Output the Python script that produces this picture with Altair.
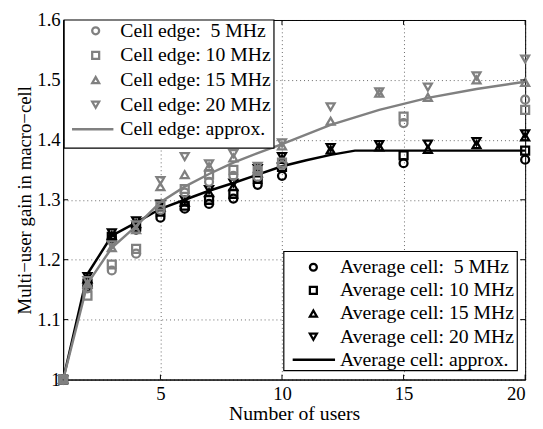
import altair as alt
import pandas as pd

# ---------------- data ----------------
x_lo = [1, 2, 3, 4, 5, 6, 7, 8, 9, 10, 15, 20]                  # 5 / 10 MHz
x_hi = [1, 2, 3, 4, 5, 6, 7, 8, 9, 10, 12, 14, 16, 18, 20]      # 15 / 20 MHz

edge_5 = [1.0, 1.152, 1.182, 1.21, 1.283, 1.312, 1.33, 1.34, 1.338, 1.358, 1.428, 1.467]
edge_10 = [1.0, 1.14, 1.192, 1.218, 1.29, 1.318, 1.342, 1.35, 1.348, 1.362, 1.439, 1.45]
edge_15 = [1.0, 1.16, 1.22, 1.25, 1.322, 1.342, 1.355, 1.37, 1.352, 1.39, 1.431, 1.478, 1.471, 1.50, 1.496]
edge_20 = [1.0, 1.165, 1.225, 1.258, 1.332, 1.372, 1.36, 1.377, 1.356, 1.395, 1.455, 1.48, 1.488, 1.507, 1.535]

avg_5 = [1.0, 1.155, 1.235, 1.25, 1.27, 1.285, 1.293, 1.302, 1.325, 1.34, 1.361, 1.367]
avg_10 = [1.0, 1.16, 1.238, 1.255, 1.28, 1.29, 1.30, 1.31, 1.335, 1.355, 1.374, 1.382]
avg_15 = [1.0, 1.168, 1.24, 1.26, 1.288, 1.296, 1.312, 1.322, 1.345, 1.368, 1.383, 1.388, 1.384, 1.392, 1.405]
avg_20 = [1.0, 1.172, 1.245, 1.265, 1.293, 1.30, 1.317, 1.328, 1.352, 1.372, 1.387, 1.392, 1.393, 1.397, 1.41]

edge_approx_x = [1, 2, 3, 4, 5, 6, 7, 8, 9, 10, 12, 14, 16, 18, 20]
edge_approx_y = [1.0, 1.16, 1.22, 1.256, 1.296, 1.322, 1.343, 1.362, 1.378, 1.393, 1.425, 1.45, 1.47, 1.485, 1.497]
avg_approx_x = [1, 2, 3, 4, 5, 6, 7, 8, 9, 10, 11, 12, 13, 20]
avg_approx_y = [1.0, 1.176, 1.24, 1.262, 1.285, 1.30, 1.315, 1.328, 1.342, 1.356, 1.366, 1.375, 1.382, 1.382]

bands = ["5 MHz", "10 MHz", "15 MHz", "20 MHz"]
shapes = ["circle", "square", "triangle-up", "triangle-down"]

edge_labels = ["Cell edge:\u00a0 5 MHz", "Cell edge: 10 MHz", "Cell edge: 15 MHz",
               "Cell edge: 20 MHz", "Cell edge: approx."]
avg_labels = ["Average cell:\u00a0 5 MHz", "Average cell: 10 MHz", "Average cell: 15 MHz",
              "Average cell: 20 MHz", "Average cell: approx."]

x_ticks = [5, 10, 15, 20]
y_ticks = [1.0, 1.1, 1.2, 1.3, 1.4, 1.5, 1.6]

GRAY = "#808080"
BLACK = "#000000"
FONT = "'Liberation Serif', 'Times New Roman', Times, serif"
W, H = 469, 365

# ---------------- tables ----------------
rows = []
for grp, sets in (("edge", [edge_5, edge_10, edge_15, edge_20]),
                  ("avg", [avg_5, avg_10, avg_15, avg_20])):
    for b, ys in zip(bands, sets):
        xs = x_lo if b in ("5 MHz", "10 MHz") else x_hi
        for xv, yv in zip(xs, ys):
            rows.append({"x": xv, "y": yv, "band": b, "grp": grp})
pts = pd.DataFrame(rows)

edge_line = pd.DataFrame({"x": edge_approx_x, "y": edge_approx_y})
avg_line = pd.DataFrame({"x": avg_approx_x, "y": avg_approx_y})

xs_scale = alt.Scale(domain=[1, 20], nice=False, zero=False)
ys_scale = alt.Scale(domain=[1.0, 1.6], nice=False, zero=False)

X = alt.X("x:Q", scale=xs_scale,
          axis=alt.Axis(values=x_ticks, title="Number of users", grid=True,
                        gridDash=[1, 3], gridColor="#000", gridOpacity=0.6,
                        tickSize=0, labelPadding=5, titlePadding=1,
                        domainColor="#000", labelFont=FONT, titleFont=FONT,
                        labelFontSize=19, titleFontSize=20, titleFontWeight="normal",
                        labelColor="#000", titleColor="#000"))
Y = alt.Y("y:Q", scale=ys_scale,
          axis=alt.Axis(values=y_ticks, format=".1~f",
                        title="Multi\u2212user gain in macro\u2212cell", grid=True,
                        gridDash=[1, 3], gridColor="#000", gridOpacity=0.6,
                        tickSize=0, labelPadding=3, titlePadding=2,
                        domainColor="#000", labelFont=FONT, titleFont=FONT,
                        labelFontSize=19, titleFontSize=19, titleFontWeight="normal",
                        labelColor="#000", titleColor="#000"))

shape_enc = alt.Shape("band:N", scale=alt.Scale(domain=bands, range=shapes), legend=None)

avg_pts = alt.Chart(pts[pts.grp == "avg"]).mark_point(
    filled=False, size=65, strokeWidth=2.3, color=BLACK, opacity=1
).encode(x=X, y=Y, shape=shape_enc)

edge_pts = alt.Chart(pts[pts.grp == "edge"]).mark_point(
    filled=False, size=65, strokeWidth=2.3, color=GRAY, opacity=1
).encode(x=alt.X("x:Q", scale=xs_scale), y=alt.Y("y:Q", scale=ys_scale), shape=shape_enc)

avg_ln = alt.Chart(avg_line).mark_line(color=BLACK, strokeWidth=2.5).encode(
    x=alt.X("x:Q", scale=xs_scale), y=alt.Y("y:Q", scale=ys_scale))
edge_ln = alt.Chart(edge_line).mark_line(color=GRAY, strokeWidth=2.5).encode(
    x=alt.X("x:Q", scale=xs_scale), y=alt.Y("y:Q", scale=ys_scale))

# inward ticks on all four sides
xt = pd.DataFrame({"x": x_ticks})
yt = pd.DataFrame({"y": y_ticks[1:-1]})
tk = []
tk.append(alt.Chart(xt).mark_rule(color=BLACK, strokeWidth=1).encode(
    x=alt.X("x:Q", scale=xs_scale), y=alt.value(H), y2=alt.value(H - 5)))
tk.append(alt.Chart(xt).mark_rule(color=BLACK, strokeWidth=1).encode(
    x=alt.X("x:Q", scale=xs_scale), y=alt.value(0), y2=alt.value(5)))
tk.append(alt.Chart(yt).mark_rule(color=BLACK, strokeWidth=1).encode(
    y=alt.Y("y:Q", scale=ys_scale), x=alt.value(0), x2=alt.value(5)))
tk.append(alt.Chart(yt).mark_rule(color=BLACK, strokeWidth=1).encode(
    y=alt.Y("y:Q", scale=ys_scale), x=alt.value(W), x2=alt.value(W - 5)))


def legend(labels, color, box, mx, tx, line_x, y0, dy):
    one = pd.DataFrame({"k": [0]})
    layers = [alt.Chart(one).mark_rect(fill="white", stroke="black", strokeWidth=1.2).encode(
        x=alt.value(box[0]), x2=alt.value(box[1]), y=alt.value(box[2]), y2=alt.value(box[3]))]
    ld = pd.DataFrame({"label": labels, "row": list(range(len(labels)))})
    ld["yp"] = y0 + ld["row"] * dy
    sym = ld.iloc[:4].copy()
    sym["shape"] = shapes
    layers.append(alt.Chart(sym).mark_point(filled=False, size=50, strokeWidth=2.3,
                                            color=color, opacity=1).encode(
        x=alt.value(mx), y=alt.Y("yp:Q", scale=None),
        shape=alt.Shape("shape:N", scale=None, legend=None)))
    layers.append(alt.Chart(ld.iloc[4:]).mark_rule(color=color, strokeWidth=2.5).encode(
        x=alt.value(line_x[0]), x2=alt.value(line_x[1]), y=alt.Y("yp:Q", scale=None)))
    layers.append(alt.Chart(ld).mark_text(align="left", baseline="middle", font=FONT,
                                          fontSize=20, color="#000").encode(
        x=alt.value(tx), y=alt.Y("yp:Q", scale=None), text="label:N"))
    return layers


leg1 = legend(edge_labels, GRAY, (1, 214, 0, 130), 33, 58, (9, 51), 11, 25)
leg2 = legend(avg_labels, BLACK, (224, 461, 235, 356), 254, 281, (233, 276), 251, 23.5)

chart = alt.layer(avg_pts, avg_ln, edge_pts, edge_ln, *tk, *leg1, *leg2).properties(
    width=W, height=H,
    autosize=alt.AutoSizeParams(type="none"),
    padding={"left": 56, "top": 9, "right": 10, "bottom": 46},
).configure_view(stroke="black", strokeWidth=1).configure_axis(domainWidth=1)

chart.save("out.html", embed_options={"renderer": "svg", "actions": False})
